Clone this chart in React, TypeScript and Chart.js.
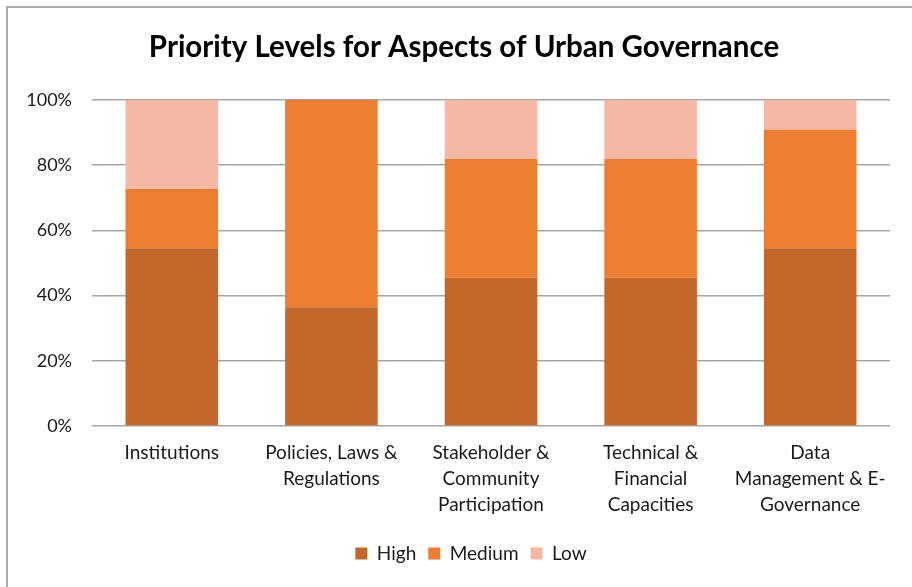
import React, { useEffect, useRef } from "react";
import { Chart, registerables } from "chart.js";

Chart.register(...registerables);

const categories: (string | string[])[] = [
  "Institutions",
  ["Policies, Laws &", "Regulations"],
  ["Stakeholder &", "Community", "Participation"],
  ["Technical &", "Financial", "Capacities"],
  ["Data", "Management & E-", "Governance"],
];
const highValues = [54.5, 36.4, 45.5, 45.5, 54.5];
const mediumValues = [18.2, 63.6, 36.4, 36.4, 36.4];
const lowValues = [27.3, 0, 18.2, 18.2, 9.1];
const yTicks = [0, 20, 40, 60, 80, 100];

const FONT = "Lato, 'Open Sans', sans-serif";
const TEXT = "#1a1a1a";

const blockShift = {
  id: "blockShift",
  afterLayout(chart: any) {
    if (chart.titleBlock) {
      chart.titleBlock.left = 38;
    }
    if (chart.legend) {
      chart.legend.left = 52;
    }
  },
};

export default function App() {
  const ref = useRef<HTMLCanvasElement | null>(null);
  useEffect(() => {
    if (!ref.current) return;
    const chart = new Chart(ref.current, {
      type: "bar",
      data: {
        labels: categories as any,
        datasets: [
          { label: "High", data: highValues, backgroundColor: "#C4672A" },
          { label: "Medium", data: mediumValues, backgroundColor: "#ED7D31" },
          { label: "Low", data: lowValues, backgroundColor: "#F4B8A5" },
        ],
      },
      plugins: [blockShift],
      options: {
        responsive: false,
        animation: false,
        devicePixelRatio: 1,
        layout: { padding: { left: 0, right: 22, top: 0, bottom: 14 } },
        datasets: { bar: { categoryPercentage: 1, barPercentage: 0.58 } } as any,
        plugins: {
          title: {
            display: true,
            text: "Priority Levels for Aspects of Urban Governance",
            color: "#000",
            font: { family: FONT, size: 29.5, weight: "bold", lineHeight: 1.2 },
            padding: { top: 30, bottom: 34.6 },
          },
          legend: {
            position: "bottom",
            labels: {
              boxWidth: 12,
              boxHeight: 12,
              color: TEXT,
              font: { family: FONT, size: 19 },
              padding: 12,
            },
          },
          tooltip: { enabled: false },
        },
        scales: {
          x: {
            stacked: true,
            grid: { display: false, drawTicks: false },
            border: { display: false },
            ticks: {
              color: TEXT,
              font: { family: FONT, size: 19, lineHeight: 1.37 },
              padding: 14,
              maxRotation: 0,
              minRotation: 0,
              autoSkip: false,
            },
            afterFit: (s: any) => {
              s.height = 106;
            },
          },
          y: {
            stacked: true,
            min: 0,
            max: 100,
            afterBuildTicks: (s: any) => {
              s.ticks = yTicks.map((v) => ({ value: v }));
            },
            grid: { color: "#a6a6a6", lineWidth: 1.5, drawTicks: false },
            border: { display: false },
            ticks: {
              color: TEXT,
              font: { family: FONT, size: 18 },
              padding: 20,
              callback: (v: any) => v + "%",
            },
            afterFit: (s: any) => {
              s.width = 92;
            },
          },
        },
      } as any,
    });
    return () => chart.destroy();
  }, []);
  return (
    <>
      <div
        style={{
          position: "fixed",
          left: 6,
          top: 6,
          width: 2000,
          height: 2000,
          border: "2px solid #ababab",
        }}
      />
      <canvas
        ref={ref}
        width={912}
        height={587}
        style={{ position: "fixed", left: 0, top: 0, width: 912, height: 587 }}
      />
    </>
  );
}
